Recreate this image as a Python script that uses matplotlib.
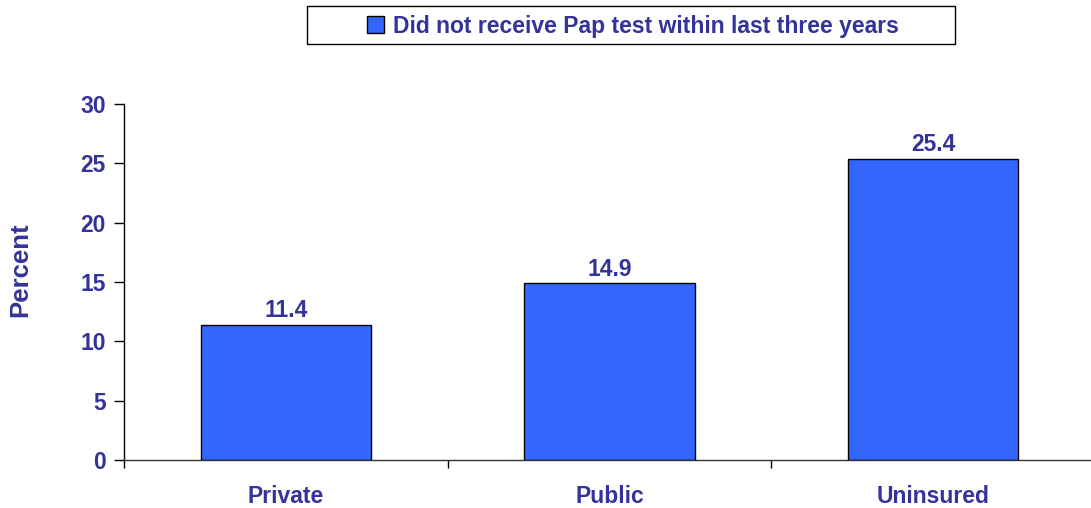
import numpy as np
import matplotlib
matplotlib.use("Agg")
import matplotlib.pyplot as plt
from matplotlib.patches import Rectangle, Patch

categories = ["Private", "Public", "Uninsured"]
pct_no_pap = [11.4, 14.9, 25.4]
series_name = "Did not receive Pap test within last three years"
y_ticks = [0, 5, 10, 15, 20, 25, 30]

TXT = "#333399"
BAR = "#3366FF"
W, H = 1091, 508
FS = 16.5

plt.rcParams["font.family"] = ["Liberation Sans", "DejaVu Sans"]
plt.rcParams["font.weight"] = "bold"

fig = plt.figure(figsize=(W / 100, H / 100), dpi=100)
# axes spans x 124..1095 px (runs past the right edge like the original), y 48..404 px
ax = fig.add_axes([124 / W, 48 / H, (1095 - 124) / W, (404 - 48) / H])

x = np.arange(len(categories))
ax.bar(x, pct_no_pap, width=0.527, color=BAR, edgecolor="black", linewidth=1.0, zorder=2)
for xi, v in zip(x, pct_no_pap):
    ax.text(xi, v + 0.2, f"{v}", ha="center", va="bottom", color=TXT,
            fontsize=FS, fontweight="bold")

ax.set_xlim(-0.5, len(categories) - 0.5)
ax.set_ylim(0, 30)
ax.set_yticks(y_ticks)
ax.set_yticklabels([str(t) for t in y_ticks])
ax.tick_params(axis="y", direction="out", length=7, width=1, pad=6,
               labelsize=FS, labelcolor=TXT, color="black")

# category boundaries carry the tick marks, labels sit at centres
ax.set_xticks(np.arange(-0.5, len(categories), 1.0))
ax.set_xticklabels([])
ax.set_xticks(x, minor=True)
ax.set_xticklabels(categories, minor=True, fontsize=FS, fontweight="bold", color=TXT)
ax.tick_params(axis="x", which="major", direction="out", length=6, width=1, color="black")
ax.tick_params(axis="x", which="minor", length=0, pad=18)

for side in ("top", "right"):
    ax.spines[side].set_visible(False)
ax.spines["left"].set_linewidth(1)
ax.spines["bottom"].set_linewidth(1)
ax.spines["bottom"].set_color("#333333")

ax.set_ylabel("Percent", fontsize=18.5, fontweight="bold", color=TXT)
ax.yaxis.set_label_coords(-(124 - 32) / (1095 - 124), 0.535)

# legend box drawn by hand so its size matches the original
fig.patches.append(Rectangle((307 / W, 1 - 44 / H), (955 - 307) / W, 38 / H,
                             transform=fig.transFigure, fill=False,
                             edgecolor="black", linewidth=1.0))
fig.legend(handles=[Patch(facecolor=BAR, edgecolor="black", label=series_name)],
           loc="center", bbox_to_anchor=(633 / W, 1 - 26 / H), frameon=False,
           handlelength=0.7, handleheight=0.7, handletextpad=0.4,
           prop={"size": FS, "weight": "bold"}, labelcolor=TXT)

fig.savefig("out.png", dpi=100)
